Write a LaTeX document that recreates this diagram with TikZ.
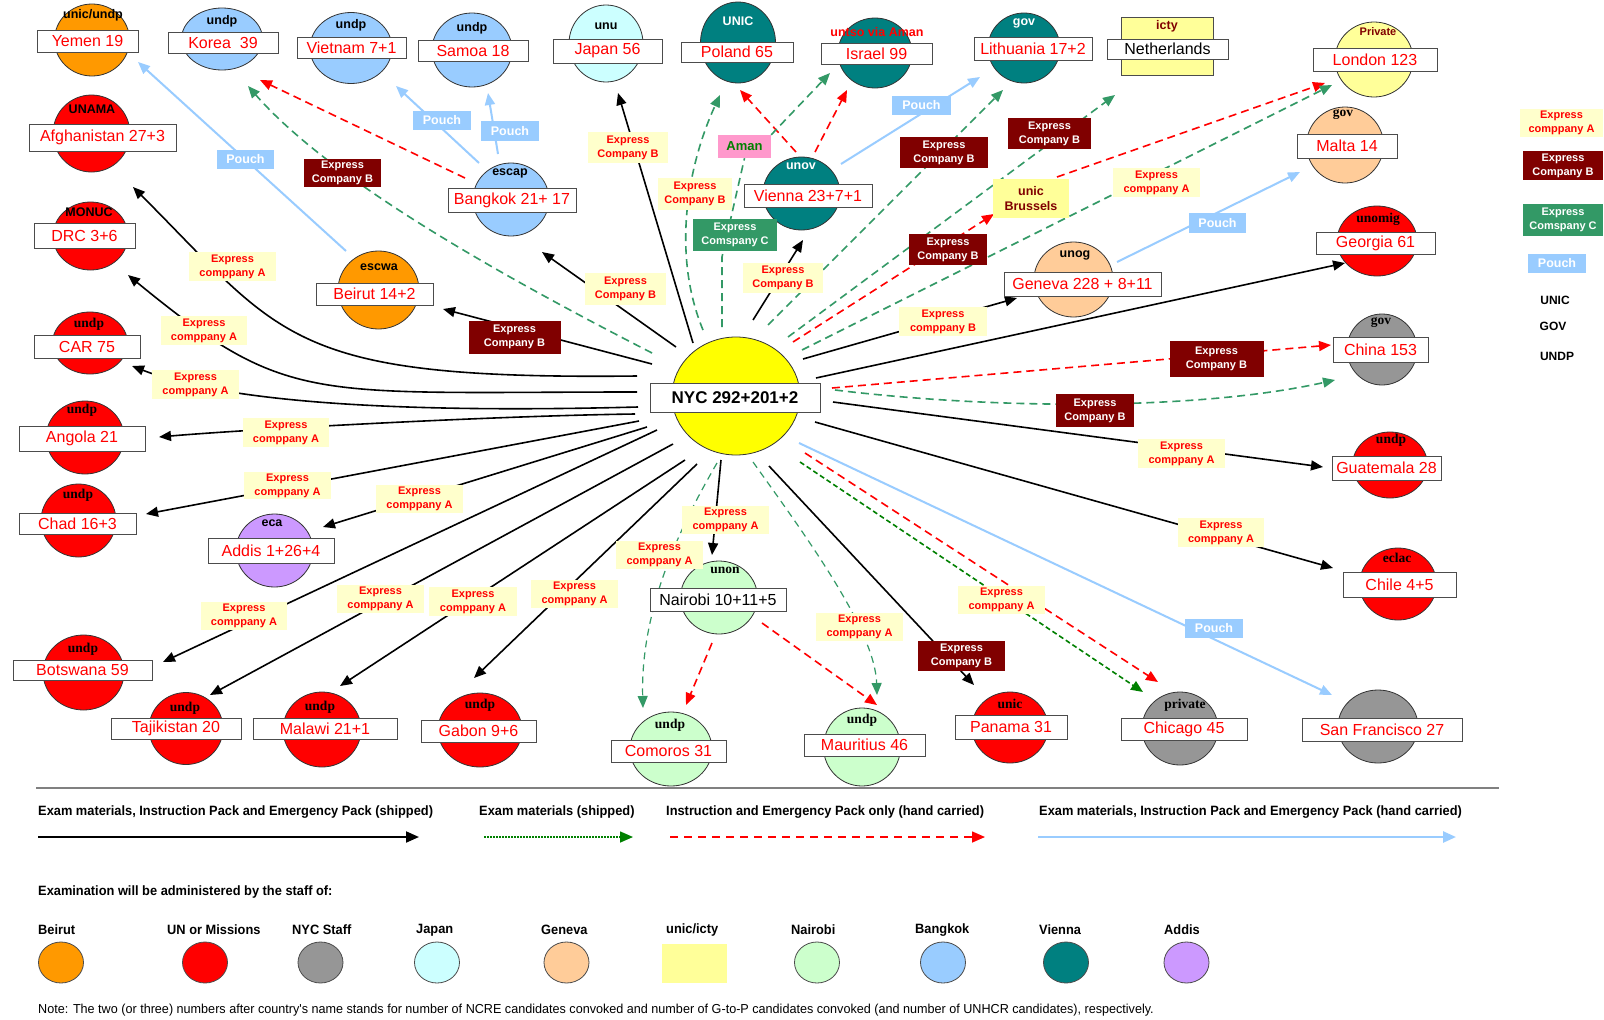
\documentclass[tikz,border=0pt]{standalone}
\usepackage{fontspec}
\setmainfont{Liberation Sans}
\newfontfamily\serf{Liberation Serif}
\newfontfamily\narr{Liberation Sans}[FakeStretch=0.95]
\newfontfamily\narrn{Liberation Sans}[FakeStretch=0.97]
\usetikzlibrary{shapes.geometric,arrows.meta,calc}
\pgfdeclarelayer{orbs}
\pgfdeclarelayer{edges}
\pgfsetlayers{orbs,edges,main}
\definecolor{corange}{HTML}{FF9900}
\definecolor{cred}{HTML}{FF0000}
\definecolor{cgray}{HTML}{969696}
\definecolor{ccyan}{HTML}{CCFFFF}
\definecolor{ctan}{HTML}{FFCC99}
\definecolor{cpale}{HTML}{FFFF99}
\definecolor{cmint}{HTML}{CCFFCC}
\definecolor{csky}{HTML}{99CCFF}
\definecolor{cteal}{HTML}{008080}
\definecolor{clav}{HTML}{CC99FF}
\definecolor{cyel}{HTML}{FFFF00}
\definecolor{ccream}{HTML}{FFFFCC}
\definecolor{cmaroon}{HTML}{800000}
\definecolor{cgreen}{HTML}{339966}
\definecolor{cdgreen}{HTML}{008000}
\definecolor{cpink}{HTML}{FF99CC}
\definecolor{cline}{HTML}{808080}
\begin{document}
\begin{tikzpicture}[x=1pt,y=-1pt,
  orb/.style={ellipse, draw=black!80, line width=0.8pt, inner sep=0pt},
  namebox/.style={draw=black!70, fill=white, line width=0.9pt, inner sep=0pt, text=red, font=\fontsize{16}{18}\selectfont},
  orgs/.style={inner sep=0pt, font=\fontsize{12.5}{14}\selectfont\bfseries},
  orgr/.style={inner sep=0pt, font=\serf\fontsize{13.5}{15}\selectfont\bfseries},
  elbl/.style={inner sep=0pt, align=center, font=\fontsize{11}{14}\selectfont\bfseries},
  lA/.style={elbl, fill=ccream, text=red},
  lB/.style={elbl, fill=cmaroon, text=white},
  lC/.style={elbl, fill=cgreen, text=white},
  lP/.style={inner sep=0pt, fill=csky, text=white, font=\fontsize{12.5}{14}\selectfont\bfseries},
  tip/.style={-{Triangle[length=12pt,width=10pt]}},
  blk/.style={draw=black, line width=1.6pt, tip},
  rdash/.style={draw=red, line width=1.6pt, dash pattern=on 8pt off 5pt, tip},
  gdash/.style={draw=cgreen, line width=1.6pt, dash pattern=on 8pt off 5pt, tip},
  gthin/.style={draw=cgreen, line width=1.2pt, dash pattern=on 7pt off 5pt, tip},
  gdot/.style={draw=cdgreen, line width=1.6pt, dash pattern=on 5pt off 3pt, tip},
  blu/.style={draw=csky, line width=2pt, tip},
  legtxt/.style={inner sep=0pt, anchor=west, font=\narr\fontsize{13.5}{15}\selectfont\bfseries},
  legorb/.style={ellipse, draw=black!70, line width=0.8pt, minimum width=45pt, minimum height=41pt, inner sep=0pt}
]
\useasboundingbox (0,0) rectangle (1604,1020);
\begin{pgfonlayer}{orbs}
\fill[white] (0,0) rectangle (1604,1020);
\node[orb, fill=cyel, minimum width=128pt, minimum height=118pt] (nyc) at (736,396) {};
\node[orb, fill=corange, minimum width=75pt, minimum height=72pt] (yemen) at (92,40) {};
\node[orb, fill=csky, minimum width=81pt, minimum height=62pt] (korea) at (222,39) {};
\node[orb, fill=csky, minimum width=82pt, minimum height=71pt] (vietnam) at (351,48) {};
\node[orb, fill=csky, minimum width=80pt, minimum height=74pt] (samoa) at (472,50) {};
\node[orb, fill=ccyan, minimum width=74pt, minimum height=77pt] (japan) at (606,43.5) {};
\node[orb, fill=cteal, minimum width=75pt, minimum height=81pt] (poland) at (738,42.5) {};
\node[orb, fill=cteal, minimum width=74pt, minimum height=70pt] (israel) at (875,53) {};
\node[orb, fill=cteal, minimum width=72pt, minimum height=70pt] (lithuania) at (1024,48) {};
\node[draw=black!70, fill=cpale, line width=0.8pt, minimum width=92pt, minimum height=58pt, inner sep=0pt] (netherlands) at (1167,46) {};
\node[orb, fill=cpale, minimum width=78pt, minimum height=75pt] (london) at (1374,59.5) {};
\node[orb, fill=ctan, minimum width=77pt, minimum height=76pt] (malta) at (1345,145) {};
\node[orb, fill=cred, minimum width=80pt, minimum height=70pt] (georgia) at (1377,241) {};
\node[orb, fill=cgray, minimum width=70pt, minimum height=71pt] (china) at (1382,349.5) {};
\node[orb, fill=cred, minimum width=75pt, minimum height=66pt] (guatemala) at (1390,465) {};
\node[orb, fill=cred, minimum width=77pt, minimum height=72pt] (chile) at (1398,584) {};
\node[orb, fill=cgray, minimum width=80pt, minimum height=73pt] (sanfran) at (1378,726.5) {};
\node[orb, fill=cgray, minimum width=76pt, minimum height=73pt] (chicago) at (1180,728.5) {};
\node[orb, fill=cred, minimum width=76pt, minimum height=71pt] (panama) at (1010,727.5) {};
\node[orb, fill=cmint, minimum width=77pt, minimum height=78pt] (mauritius) at (862,747) {};
\node[orb, fill=cmint, minimum width=82pt, minimum height=74pt] (comoros) at (671,749) {};
\node[orb, fill=cmint, minimum width=77pt, minimum height=73pt] (nairobi) at (719,597.5) {};
\node[orb, fill=cred, minimum width=84pt, minimum height=74pt] (gabon) at (480,730) {};
\node[orb, fill=cred, minimum width=78pt, minimum height=75pt] (malawi) at (322,729.5) {};
\node[orb, fill=cred, minimum width=74pt, minimum height=72pt] (tajik) at (186,728.5) {};
\node[orb, fill=cred, minimum width=81pt, minimum height=75pt] (botswana) at (83.5,672.5) {};
\node[orb, fill=clav, minimum width=77pt, minimum height=73pt] (addis) at (274.5,550.5) {};
\node[orb, fill=cred, minimum width=75pt, minimum height=73pt] (chad) at (78.5,520.5) {};
\node[orb, fill=cred, minimum width=78pt, minimum height=73pt] (angola) at (85,437.5) {};
\node[orb, fill=cred, minimum width=75pt, minimum height=62pt] (car) at (90,343) {};
\node[orb, fill=cred, minimum width=75pt, minimum height=68pt] (drc) at (90.5,236) {};
\node[orb, fill=cred, minimum width=77pt, minimum height=77pt] (afgh) at (91.5,133.5) {};
\node[orb, fill=csky, minimum width=76pt, minimum height=73pt] (bangkok) at (511,199.5) {};
\node[orb, fill=cteal, minimum width=77pt, minimum height=73pt] (vienna) at (801.5,193.5) {};
\node[orb, fill=corange, minimum width=81pt, minimum height=78pt] (beirut) at (378.5,290) {};
\node[orb, fill=ctan, minimum width=79pt, minimum height=75pt] (geneva) at (1073.5,279.5) {};
\end{pgfonlayer}

% intermediate boxes
\node[fill=cpink, inner sep=0pt, minimum width=53pt, minimum height=23pt, text=cdgreen, font=\fontsize{13}{15}\selectfont\bfseries] (aman) at (744.5,146.5) {Aman};
\node[fill=cpale, inner sep=0pt, minimum width=76pt, minimum height=39pt, align=center, text=cmaroon, font=\fontsize{12.5}{15}\selectfont\bfseries] (brussels) at (1031,198.5) {unic\\Brussels};

% organisation texts
\node[orgs] at (93,15) {unic/undp};
\node[orgs] at (222,21) {undp};
\node[orgs] at (351,25) {undp};
\node[orgs] at (472,28) {undp};
\node[orgs] at (606,26) {unu};
\node[orgs, text=white] at (738,21) {UNIC};
\node[orgs, text=red] at (877,32) {untso via Aman};
\node[orgs, text=white] at (1024,23) {gov};
\node[orgs, text=cmaroon] at (1167,26) {icty};
\node[orgs, text=cmaroon, font=\fontsize{11}{13}\selectfont\bfseries] at (1378,32) {Private};
\node[orgr] at (1343,115) {gov};
\node[orgr] at (1378,219) {unomig};
\node[orgr] at (1381,323) {gov};
\node[orgs] at (92,109) {UNAMA};
\node[orgs] at (89,212) {MONUC};
\node[orgr] at (89,324) {undp};
\node[orgr] at (82,410) {undp};
\node[orgr] at (78,495) {undp};
\node[orgs] at (272,523) {eca};
\node[orgr] at (83,649) {undp};
\node[orgr] at (185,708) {undp};
\node[orgr] at (320,707) {undp};
\node[orgr] at (480,705) {undp};
\node[orgr] at (670,725) {undp};
\node[orgr] at (725,570) {unon};
\node[orgr] at (862,720) {undp};
\node[orgr] at (1010,704) {unic};
\node[orgr] at (1185,705) {private};
\node[orgr] at (1397,558) {eclac};
\node[orgr] at (1391,440) {undp};
\node[orgs] at (510,173) {escap};
\node[orgs, text=white] at (801,166) {unov};
\node[orgs] at (379,267) {escwa};
\node[orgs] at (1075,255) {unog};

% name boxes
\node[namebox, minimum width=101pt, minimum height=22pt] (yemenlbl) at (87.5,41) {Yemen 19};
\node[namebox, minimum width=110pt, minimum height=21pt] (korealbl) at (223,42.5) {Korea~~39};
\node[namebox, minimum width=109pt, minimum height=21pt] (vietnamlbl) at (351.5,47.5) {Vietnam 7+1};
\node[namebox, minimum width=110pt, minimum height=21pt] (samoalbl) at (473,50.5) {Samoa 18};
\node[namebox, minimum width=109pt, minimum height=24pt] (japanlbl) at (607.5,51) {Japan 56};
\node[namebox, minimum width=112pt, minimum height=20pt] (polandlbl) at (737,52) {Poland 65};
\node[namebox, minimum width=111pt, minimum height=21pt] (israellbl) at (876.5,53.5) {Israel 99};
\node[namebox, minimum width=118pt, minimum height=23pt] (lithuanialbl) at (1033,48.5) {Lithuania 17+2};
\node[namebox, minimum width=121pt, minimum height=20pt, text=black] (netherlandslbl) at (1167.5,49) {Netherlands};
\node[namebox, minimum width=124pt, minimum height=23pt] (londonlbl) at (1375,59.5) {London 123};
\node[namebox, minimum width=100pt, minimum height=24pt] (maltalbl) at (1347,146) {Malta 14};
\node[namebox, minimum width=119pt, minimum height=22pt] (georgialbl) at (1375.5,243) {Georgia 61};
\node[namebox, minimum width=95pt, minimum height=25pt] (chinalbl) at (1380.5,349.5) {China 153};
\node[namebox, minimum width=109pt, minimum height=24pt] (guatemalalbl) at (1386.5,468) {Guatemala 28};
\node[namebox, minimum width=113pt, minimum height=25pt] (chilelbl) at (1399.5,584.5) {Chile 4+5};
\node[namebox, minimum width=160pt, minimum height=23pt] (sanfranlbl) at (1382,729.5) {San Francisco 27};
\node[namebox, minimum width=126pt, minimum height=22pt] (chicagolbl) at (1184,729) {Chicago 45};
\node[namebox, minimum width=112pt, minimum height=24pt] (panamalbl) at (1011,727) {Panama 31};
\node[namebox, minimum width=121pt, minimum height=22pt] (mauritiuslbl) at (864.5,745) {Mauritius 46};
\node[namebox, minimum width=115pt, minimum height=22pt] (comoroslbl) at (668.5,751) {Comoros 31};
\node[namebox, minimum width=136pt, minimum height=23pt, text=black] (nairobilbl) at (718,599.5) {Nairobi 10+11+5};
\node[namebox, minimum width=115pt, minimum height=22pt] (gabonlbl) at (478.5,731) {Gabon 9+6};
\node[namebox, minimum width=144pt, minimum height=21pt] (malawilbl) at (325,728.5) {Malawi 21+1};
\node[namebox, minimum width=130pt, minimum height=21pt] (tajiklbl) at (176,728.5) {Tajikistan 20};
\node[namebox, minimum width=139pt, minimum height=20pt] (botswanalbl) at (82.5,670) {Botswana 59};
\node[namebox, minimum width=126pt, minimum height=25pt] (addislbl) at (271,550.5) {Addis 1+26+4};
\node[namebox, minimum width=117pt, minimum height=21pt] (chadlbl) at (77.5,523.5) {Chad 16+3};
\node[namebox, minimum width=126pt, minimum height=25pt] (angolalbl) at (82,438.5) {Angola 21};
\node[namebox, minimum width=106pt, minimum height=23pt] (carlbl) at (87,346.5) {CAR 75};
\node[namebox, minimum width=101pt, minimum height=25pt] (drclbl) at (84.5,235.5) {DRC 3+6};
\node[namebox, minimum width=147pt, minimum height=27pt] (afghlbl) at (102.5,137.5) {Afghanistan 27+3};
\node[namebox, minimum width=128pt, minimum height=24pt] (bangkoklbl) at (512,200) {Bangkok 21+ 17};
\node[namebox, minimum width=128pt, minimum height=23pt] (viennalbl) at (808,195.5) {Vienna 23+7+1};
\node[namebox, minimum width=117pt, minimum height=22pt] (beirutlbl) at (374.5,294) {Beirut 14+2};
\node[namebox, minimum width=157pt, minimum height=24pt] (genevalbl) at (1082.5,284) {Geneva 228 + 8+11};
\node[namebox, minimum width=170pt, minimum height=29pt, text=black, font=\fontsize{17}{19}\selectfont\bfseries] (nyclbl) at (735,397.5) {NYC 292+201+2};

% connectors
\begin{pgfonlayer}{edges}
% black, shipped from NYC
\draw[blk] ($(nyc)+(-43,-53)$) -- ($(japan)+(12,49.5)$);
\draw[blk] ($(nyc)+(-60,-49)$) -- ($(bangkok)+(31,52.5)$);
\draw[blk] ($(nyc)+(-84,-32)$) -- ($(beirut)+(64.5,19)$);
\draw[blk] ($(nyc)+(-99,-20)$) .. controls +(-350,4) and +(150,150) .. ($(afgh)+(41.5,53.5)$);
\draw[blk] ($(nyc)+(-99,-4)$) .. controls +(-330,0) and +(160,131) .. ($(drc)+(37.5,39)$);
\draw[blk] ($(nyc)+(-98,11)$) .. controls +(-188,5) and +(108,42) .. ($(car)+(42,23)$);
\draw[blk] ($(nyc)+(-101,18)$) .. controls +(-150,2) and +(80,-7) .. ($(angola)+(74,-0.5)$);
\draw[blk] ($(nyc)+(-97,25)$) -- ($(chad)+(67.5,-6.5)$);
\draw[blk] ($(nyc)+(-89,31)$) -- ($(addis)+(48.5,-23.5)$);
\draw[blk] ($(nyc)+(-79,34)$) -- ($(botswana)+(79.5,-10.5)$);
\draw[blk] ($(nyc)+(-63,48)$) -- ($(tajik)+(24,-33.5)$);
\draw[blk] ($(nyc)+(-51,64)$) -- ($(malawi)+(18,-43.5)$);
\draw[blk] ($(nyc)+(-39,68)$) -- ($(gabon)+(-6,-52)$);
\draw[blk] ($(nyc)+(-15,64)$) -- ($(nairobi)+(-7,-42.5)$);
\draw[blk] ($(nyc)+(33,70)$) -- ($(panama)+(-36,-42.5)$);
\draw[blk] ($(nyc)+(79,26)$) -- ($(chile)+(-65,-16)$);
\draw[blk] ($(nyc)+(97,6)$) -- ($(guatemala)+(-67,2)$);
\draw[blk] ($(nyc)+(80,-18)$) -- ($(georgia)+(-32,22)$);
\draw[blk] ($(nyc)+(67,-37)$) -- ($(geneva)+(-56.5,18.5)$);
\draw[blk] ($(nyc)+(17,-76)$) -- ($(vienna)+(1.5,46.5)$);
% red dashed, hand carried
\draw[rdash] ($(bangkok)+(-46,-21.5)$) -- ($(korea)+(38,41)$);
\draw[rdash] ($(vienna)+(-5.5,-41.5)$) -- ($(poland)+(2,47.5)$);
\draw[rdash] ($(vienna)+(13.5,-41.5)$) -- ($(israel)+(-28,37)$);
\draw[rdash] ($(nyc)+(57,-54)$) -- ($(brussels)+(-37,15.5)$);
\draw[rdash] ($(brussels)+(26,-21.5)$) -- ($(london)+(-49,23.5)$);
\draw[rdash] ($(nyc)+(96,-8)$) -- ($(china)+(-51,-4.5)$);
\draw[rdash] ($(nairobi)+(-7,45.5)$) -- ($(comoros)+(15,-44)$);
\draw[rdash] ($(nairobi)+(43,25.5)$) -- ($(mauritius)+(15,-42)$);
\draw[rdash] ($(nyc)+(69,57)$) -- ($(chicago)+(-22,-46.5)$);
% green dashed, shipped
\draw[gdash] ($(nyc)+(-84,-43)$) .. controls +(-152,-78) and +(82,94) .. ($(korea)+(26,47)$);
\draw[gdash] ($(nyc)+(-33,-66)$) .. controls +(-33,-80) and +(-30,65) .. ($(poland)+(-18,52.5)$);
\draw[gdash, -] ($(nyc)+(-14,-69)$) -- ++(0,-70) -- (aman.south);
\draw[gdash] (aman.north east) -- ($(israel)+(-45,20)$);
\draw[gdash] ($(nyc)+(32,-71)$) -- ($(lithuania)+(-21,42)$);
\draw[gdash] ($(nyc)+(52,-59)$) -- ($(netherlands)+(-52,49)$);
\draw[gdash] ($(nyc)+(66,-46)$) -- ($(london)+(-42,25.5)$);
\draw[gdash] ($(nyc)+(99,-6)$) .. controls +(165,20) and +(-135,30) .. ($(china)+(-47,30.5)$);
\draw[gthin] ($(nyc)+(17,66)$) .. controls +(52,73) and +(-2,-65) .. ($(mauritius)+(15,-52)$);
\draw[gthin] ($(nyc)+(-19,67)$) .. controls +(-27,47) and +(-3,-108) .. ($(comoros)+(-28,-41)$);
\draw[gdot] ($(nyc)+(64,66)$) -- ($(chicago)+(-37,-36.5)$);
% blue, pouch
\draw[blu] ($(beirut)+(-32.5,-39)$) -- ($(yemen)+(46,22)$);
\draw[blu] ($(bangkok)+(-32,-36.5)$) -- ($(vietnam)+(45,38)$);
\draw[blu] ($(bangkok)+(-13,-45.5)$) -- ($(samoa)+(16,43)$);
\draw[blu] ($(vienna)+(39.5,-29.5)$) -- ($(lithuania)+(-44,29)$);
\draw[blu] ($(geneva)+(43.5,-17.5)$) -- ($(malta)+(-45,27)$);
\draw[blu] ($(nyc)+(63,47)$) -- ($(sanfran)+(-46,-31.5)$);
\end{pgfonlayer}

% connector labels
\node[lP, minimum width=57pt, minimum height=19pt] (p1) at (245.5,159.5) {Pouch};
\node[lB, minimum width=77pt, minimum height=28pt] (b1) at (342.5,173) {Express\\Company B};
\node[lA, minimum width=87pt, minimum height=29pt] (a1) at (232.5,266.5) {Express\\comppany A};
\node[lA, minimum width=86pt, minimum height=29pt] (a2) at (204,330.5) {Express\\comppany A};
\node[lA, minimum width=87pt, minimum height=29pt] (a3) at (195.5,384.5) {Express\\comppany A};
\node[lA, minimum width=86pt, minimum height=29pt] (a4) at (286,432.5) {Express\\comppany A};
\node[lA, minimum width=87pt, minimum height=27pt] (a5) at (287.5,485.5) {Express\\comppany A};
\node[lA, minimum width=87pt, minimum height=28pt] (a6) at (419.5,499) {Express\\comppany A};
\node[lA, minimum width=86pt, minimum height=28pt] (a7) at (244,616) {Express\\comppany A};
\node[lA, minimum width=87pt, minimum height=28pt] (a8) at (380.5,599) {Express\\comppany A};
\node[lA, minimum width=88pt, minimum height=29pt] (a9) at (473,601.5) {Express\\comppany A};
\node[lA, minimum width=87pt, minimum height=28pt] (a10) at (574.5,594) {Express\\comppany A};
\node[lA, minimum width=87pt, minimum height=28pt] (a11) at (659.5,555) {Express\\comppany A};
\node[lA, minimum width=87pt, minimum height=28pt] (a12) at (725.5,520) {Express\\comppany A};
\node[lA, minimum width=81pt, minimum height=32pt] (y1) at (625.5,289) {Express\\Company B};
\node[lA, minimum width=80pt, minimum height=31pt] (y2) at (628,147.5) {Express\\Company B};
\node[lA, minimum width=74pt, minimum height=32pt] (y3) at (695,194) {Express\\Company B};
\node[lC, minimum width=84pt, minimum height=32pt] (c1) at (735,235) {Express\\Comspany C};
\node[lA, minimum width=80pt, minimum height=30pt] (y4) at (783,278) {Express\\Company B};
\node[lB, minimum width=92pt, minimum height=33pt] (b2) at (514.5,337) {Express\\Company B};
\node[lP, minimum width=58pt, minimum height=19pt] (p2) at (442,120.5) {Pouch};
\node[lP, minimum width=58pt, minimum height=20pt] (p3) at (510,131) {Pouch};
\node[lP, minimum width=59pt, minimum height=19pt] (p4) at (921.5,105.5) {Pouch};
\node[lB, minimum width=88pt, minimum height=31pt] (b3) at (944,152.5) {Express\\Company B};
\node[lB, minimum width=83pt, minimum height=31pt] (b4) at (1049.5,133.5) {Express\\Company B};
\node[lB, minimum width=78pt, minimum height=31pt] (b5) at (948,249.5) {Express\\Company B};
\node[lA, minimum width=87pt, minimum height=29pt] (a13) at (1156.5,182.5) {Express\\comppany A};
\node[lA, minimum width=88pt, minimum height=29pt] (y5) at (943,321.5) {Express\\comppany B};
\node[lP, minimum width=57pt, minimum height=20pt] (p5) at (1217.5,223) {Pouch};
\node[lB, minimum width=94pt, minimum height=36pt] (b6) at (1216.5,359) {Express\\Company B};
\node[lB, minimum width=78pt, minimum height=33pt] (b7) at (1095,410.5) {Express\\Company B};
\node[lA, minimum width=87pt, minimum height=29pt] (a14) at (1181.5,453.5) {Express\\comppany A};
\node[lA, minimum width=86pt, minimum height=29pt] (a15) at (1221,532.5) {Express\\comppany A};
\node[lP, minimum width=58pt, minimum height=19pt] (p6) at (1214,628.5) {Pouch};
\node[lA, minimum width=87pt, minimum height=28pt] (a16) at (1001.5,600) {Express\\comppany A};
\node[lA, minimum width=87pt, minimum height=28pt] (a17) at (859.5,627) {Express\\comppany A};
\node[lB, minimum width=87pt, minimum height=30pt] (b8) at (961.5,656) {Express\\Company B};

% right-hand key
\node[lA, minimum width=83pt, minimum height=28pt] (ka) at (1561.5,123) {Express\\comppany A};
\node[lB, minimum width=80pt, minimum height=29pt] (kb) at (1563,165.5) {Express\\Company B};
\node[lC, minimum width=80pt, minimum height=32pt] (kc) at (1563,220) {Express\\Comspany C};
\node[lP, minimum width=58pt, minimum height=19pt] (kp) at (1557,263.5) {Pouch};
\node[orgs, font=\fontsize{12}{14}\selectfont\bfseries] (kunic) at (1555,300) {UNIC};
\node[orgs, font=\fontsize{12}{14}\selectfont\bfseries] (kgov) at (1553,326) {GOV};
\node[orgs, font=\fontsize{12}{14}\selectfont\bfseries] (kundp) at (1557,356) {UNDP};

% bottom key
\coordinate (sepa) at (36,788);
\coordinate (sepb) at (1499,788);
\draw[cline, line width=1.5pt] (sepa) -- (sepb);
\node[legtxt] (t1) at (38,812) {Exam materials, Instruction Pack and Emergency Pack (shipped)};
\node[legtxt] (t2) at (479,812) {Exam materials (shipped)};
\node[legtxt] (t3) at (666,812) {Instruction and Emergency Pack only (hand carried)};
\node[legtxt] (t4) at (1039,812) {Exam materials, Instruction Pack and Emergency Pack (hand carried)};
\coordinate (k1s) at (38,837); \coordinate (k1e) at (419,837);
\coordinate (k2s) at (484,837); \coordinate (k2e) at (633,837);
\coordinate (k3s) at (670,837); \coordinate (k3e) at (985,837);
\coordinate (k4s) at (1038,837); \coordinate (k4e) at (1456,837);
\draw[black, line width=2pt, -{Triangle[length=13pt,width=11pt]}] (k1s) -- (k1e);
\draw[cdgreen, line width=1.6pt, dash pattern=on 1.6pt off 1.4pt, -{Triangle[length=13pt,width=11pt]}] (k2s) -- (k2e);
\draw[red, line width=1.6pt, dash pattern=on 8pt off 6pt, -{Triangle[length=13pt,width=11pt]}] (k3s) -- (k3e);
\draw[csky, line width=2.5pt, -{Triangle[length=13pt,width=11pt]}] (k4s) -- (k4e);
\node[legtxt] (t5) at (38,892) {Examination will be administered by the staff of:};
\node[legtxt] at (38,930) {Beirut};
\node[legtxt] at (167,930) {UN or Missions};
\node[legtxt] at (292,930) {NYC Staff};
\node[legtxt] at (416,930) {Japan};
\node[legtxt] at (541,930) {Geneva};
\node[legtxt] at (666,930) {unic/icty};
\node[legtxt] at (791,930) {Nairobi};
\node[legtxt] at (915,930) {Bangkok};
\node[legtxt] at (1039,930) {Vienna};
\node[legtxt] at (1164,930) {Addis};
\node[legorb, fill=corange] (e1) at (61,962.5) {};
\node[legorb, fill=cred] (e2) at (205,962.5) {};
\node[legorb, fill=cgray] (e3) at (320.5,962.5) {};
\node[legorb, fill=ccyan] (e4) at (437,962.5) {};
\node[legorb, fill=ctan] (e5) at (566.5,962.5) {};
\node[fill=cpale, inner sep=0pt, minimum width=65pt, minimum height=39pt] (e6) at (694.5,963.5) {};
\node[legorb, fill=cmint] (e7) at (817,962.5) {};
\node[legorb, fill=csky] (e8) at (943,962.5) {};
\node[legorb, fill=cteal] (e9) at (1066,962.5) {};
\node[legorb, fill=clav] (e10) at (1186.5,962.5) {};
\node[inner sep=0pt, anchor=west, font=\narrn\fontsize{13}{14}\selectfont] (note) at (38,1010) {Note: The two (or three) numbers after country's name stands for number of NCRE candidates convoked and number of G-to-P candidates convoked (and number of UNHCR candidates), respectively.};
\end{tikzpicture}
\end{document}
